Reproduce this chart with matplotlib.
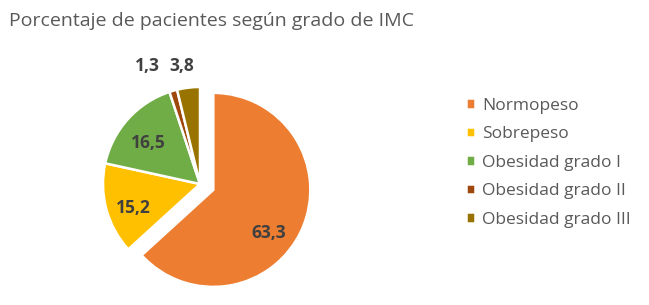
import matplotlib
matplotlib.use("Agg")
import matplotlib.pyplot as plt
import numpy as np

categories = ["Normopeso", "Sobrepeso", "Obesidad grado I", "Obesidad grado II", "Obesidad grado III"]
values = [63.3, 15.2, 16.5, 1.3, 3.8]
colors = ["#ED7D31", "#FFC000", "#70AD47", "#9E480E", "#997300"]
title = "Porcentaje de pacientes según grado de IMC"

W, H = 649, 305
fig = plt.figure(figsize=(W / 100, H / 100), dpi=100)

# pie center (px, from top) and radius
cx, cy, r = 200, 184, 97
L = 1.6
half = L * r
ax = fig.add_axes([(cx - half) / W, ((H - cy) - half) / H, 2 * half / W, 2 * half / H])

explode = [0.15, 0, 0, 0, 0]
wedges, _ = ax.pie(values, colors=colors, startangle=90, counterclock=False,
                   explode=explode, radius=1,
                   wedgeprops=dict(edgecolor="white", linewidth=1.8))
ax.set_xlim(-L, L)
ax.set_ylim(-L, L)
ax.set_aspect("equal")
ax.axis("off")
for w in wedges:
    w.set_clip_on(False)

label_dist = [0.72, 0.73, 0.68, 1.33, 1.23]
angle_off = [-14, 5, 4, 8, 2]
for w, v, d, off in zip(wedges, values, label_dist, angle_off):
    mid = np.deg2rad((w.theta1 + w.theta2) / 2 + off)
    c = w.center
    ax.text(c[0] + d * np.cos(mid), c[1] + d * np.sin(mid),
            f"{v:.1f}".replace(".", ","), ha="center", va="center",
            fontsize=12.5, fontweight="bold", color="#404040", family="Open Sans")

fig.text(9 / W, 1 - 21 / H, title, ha="left", va="center",
         fontsize=14, color="#595959", family="Open Sans")

fig.legend(wedges, categories, loc="upper left",
           bbox_to_anchor=(450 / W, 1 - 82 / H), frameon=False,
           handlelength=0.55, handleheight=0.55,
           handletextpad=0.4, labelspacing=0.72, labelcolor="#595959",
           prop={"family": "Open Sans", "size": 12.5})

fig.savefig("out.png", dpi=100)
